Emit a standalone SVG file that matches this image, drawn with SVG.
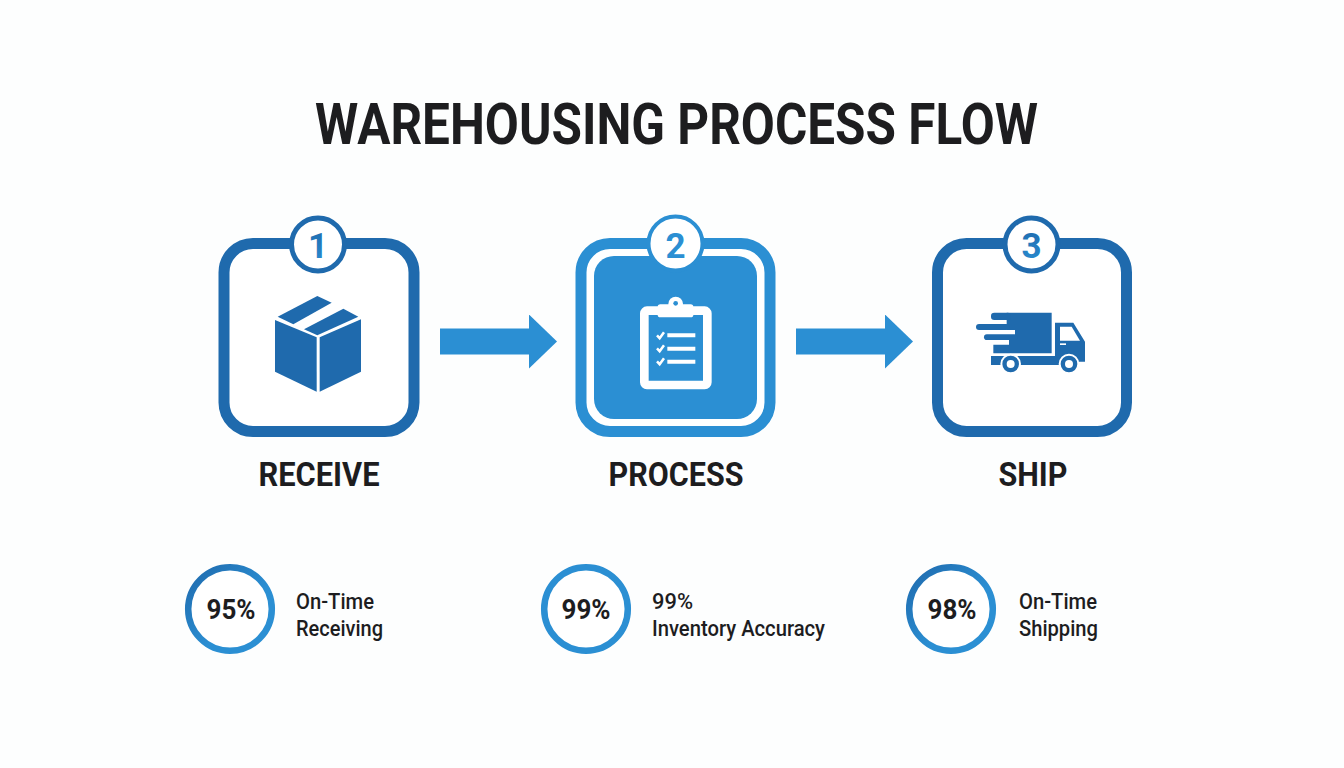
<svg xmlns="http://www.w3.org/2000/svg" width="1344" height="768" viewBox="0 0 1344 768">
<style>
text{font-family:Roboto,"Liberation Sans",sans-serif;fill:#1d1d1f}
.title{font-size:58px;font-weight:700}
.step{font-size:33px;font-weight:700;text-anchor:middle}
.num{font-size:35px;font-weight:700;text-anchor:middle}
.pct{font-size:28px;font-weight:700;text-anchor:middle}
.lbl{font-size:22px;font-weight:500}
.frame{fill:#fff;stroke:#1f6aad;stroke-width:11}
.badge{fill:#fff;stroke:#1f6aad;stroke-width:5}
.ring{fill:#fff;stroke-width:6.5}
.dk{fill:#1f6aad}
.md{fill:#2b8fd3}
.wl{stroke:#fff;stroke-width:12;fill:none}
</style>
<defs>
<linearGradient id="g1" x1="0" y1="0" x2="1" y2="1"><stop offset="0" stop-color="#1f6aad"/><stop offset=".6" stop-color="#2b8fd3"/><stop offset="1" stop-color="#2b8fd3"/></linearGradient>
<linearGradient id="g2" x1="0" y1="0" x2="0" y2="1"><stop offset="0" stop-color="#1f6aad"/><stop offset="1" stop-color="#2b8fd3"/></linearGradient>
<marker id="head" markerUnits="userSpaceOnUse" markerWidth="28" markerHeight="54" refX="0" refY="27" orient="auto"><path d="M0 0L28 27L0 54Z" fill="#2b8fd3"/></marker>
</defs>
<rect width="1344" height="768" fill="#fdfefe"/>
<text class="title" x="315" y="144" textLength="723" lengthAdjust="spacingAndGlyphs">WAREHOUSING PROCESS FLOW</text>
<g id="connectors">
<line x1="440" y1="341.500" x2="529" y2="341.500" stroke="#2b8fd3" stroke-width="26" marker-end="url(#head)"/>
<line x1="796" y1="341.500" x2="885" y2="341.500" stroke="#2b8fd3" stroke-width="26" marker-end="url(#head)"/>
</g>
<g id="node-receive">
<rect class="frame" x="224" y="243.500" width="190" height="188" rx="29"/>
<circle class="badge" cx="318" cy="244.500" r="26.500"/>
<text class="num" x="318" y="258" style="fill:url(#g2)">1</text>
<g transform="translate(200 210) scale(.33333)" class="dk">
<path d="M225 330L350 382V545L225 485Z"/><path d="M359 382L483 328V485L359 545Z"/>
<path d="M233 320L352 258L395 278L280 343Z"/><path d="M312 358L430 296L475 320L352 376Z"/>
</g>
<text class="step" x="319" y="486" textLength="121" lengthAdjust="spacingAndGlyphs">RECEIVE</text>
</g>
<g id="node-process">
<rect x="581" y="243.500" width="189" height="188" rx="29" fill="#fff" stroke="#2b8fd3" stroke-width="11"/>
<rect class="md" x="594" y="256" width="163" height="163" rx="20"/>
<circle cx="675.500" cy="243.500" r="27" fill="#fff" stroke="#2b8fd3" stroke-width="4"/>
<text class="num" x="675.500" y="258" style="fill:#2b8fd3">2</text>
<g transform="translate(630 290) scale(.33333)">
<rect x="43" y="62" width="189" height="223" rx="8" fill="none" stroke="#fff" stroke-width="26"/>
<circle cx="137" cy="42" r="22" fill="#fff"/>
<rect x="83" y="43" width="107" height="39" rx="8" fill="#fff"/>
<circle cx="137" cy="40" r="7" fill="#2b8fd3"/>
<path class="wl" d="M112 136H196M112 176H196M112 215H196"/>
<path d="M81 136L89 145L102 127M81 175L89 184L102 166M81 214L89 223L102 205" fill="none" stroke="#fff" stroke-width="7.500"/>
</g>
<text class="step" x="676" y="486" textLength="135" lengthAdjust="spacingAndGlyphs">PROCESS</text>
</g>
<g id="node-ship">
<rect class="frame" x="937.500" y="243.500" width="189" height="188" rx="29"/>
<circle class="badge" cx="1031.500" cy="244.500" r="26.500"/>
<text class="num" x="1031.500" y="258" style="fill:url(#g2)">3</text>
<g transform="translate(965 300) scale(.33333)">
<path class="dk" d="M125 38H260V160H85V134H132V120H150V90H125Z"/>
<rect class="dk" x="78" y="38" width="60" height="22" rx="10"/>
<rect class="dk" x="33" y="72" width="100" height="18" rx="9"/>
<rect class="dk" x="57" y="103" width="100" height="17" rx="8.500"/>
<path class="dk" d="M270 68H325L360 125V185H340V195H78V168H270Z"/>
<path fill="#fff" d="M285 80H320L345 122H285Z"/>
<rect x="285" y="130" width="18" height="5" fill="#fff"/>
<circle cx="137" cy="192" r="28" fill="#1f6aad" stroke="#fff" stroke-width="6"/>
<circle cx="137" cy="192" r="12" fill="#fff"/>
<circle cx="312" cy="192" r="28" fill="#1f6aad" stroke="#fff" stroke-width="6"/>
<circle cx="312" cy="192" r="12" fill="#fff"/>
</g>
<text class="step" x="1033" y="486" textLength="69" lengthAdjust="spacingAndGlyphs">SHIP</text>
</g>
<g id="metric-receiving">
<circle class="ring" cx="230" cy="609" r="41.800" stroke="url(#g1)"/>
<text class="pct" x="231" y="618.500" textLength="49" lengthAdjust="spacingAndGlyphs">95%</text>
<text class="lbl" x="296" y="609" textLength="78" lengthAdjust="spacingAndGlyphs">On-Time</text>
<text class="lbl" x="296" y="636" textLength="87" lengthAdjust="spacingAndGlyphs">Receiving</text>
</g>
<g id="metric-accuracy">
<circle class="ring" cx="586" cy="609" r="41.800" stroke="#2b8fd3"/>
<text class="pct" x="586" y="618.500" textLength="49" lengthAdjust="spacingAndGlyphs">99%</text>
<text class="lbl" x="652" y="609" textLength="41" lengthAdjust="spacingAndGlyphs">99%</text>
<text class="lbl" x="652" y="636" textLength="173" lengthAdjust="spacingAndGlyphs">Inventory Accuracy</text>
</g>
<g id="metric-shipping">
<circle class="ring" cx="951" cy="609" r="41.800" stroke="url(#g1)"/>
<text class="pct" x="952" y="618.500" textLength="49" lengthAdjust="spacingAndGlyphs">98%</text>
<text class="lbl" x="1019" y="609" textLength="78" lengthAdjust="spacingAndGlyphs">On-Time</text>
<text class="lbl" x="1019" y="636" textLength="79" lengthAdjust="spacingAndGlyphs">Shipping</text>
</g>
</svg>
